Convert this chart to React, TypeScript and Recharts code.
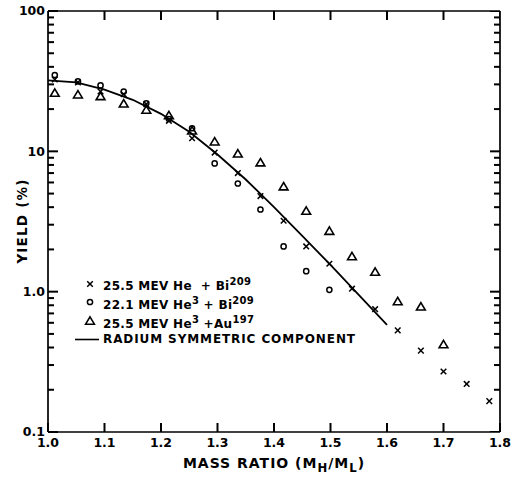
import { ComposedChart, ReferenceLine, Scatter, XAxis, YAxis } from 'recharts';

const heBiX = [1.012, 1.053, 1.093, 1.134, 1.174, 1.214, 1.255, 1.295, 1.336, 1.376, 1.417, 1.457, 1.498, 1.538, 1.579, 1.619, 1.66, 1.7, 1.741, 1.781];
const heBiY = [32.5, 31, 26.7, 25.5, 21.7, 16.5, 12.4, 9.8, 7.0, 4.8, 3.2, 2.1, 1.58, 1.05, 0.75, 0.53, 0.38, 0.27, 0.22, 0.166];

const he3BiX = [1.012, 1.053, 1.093, 1.134, 1.174, 1.214, 1.255, 1.295, 1.336, 1.376, 1.417, 1.457, 1.498];
const he3BiY = [35, 31.5, 29.5, 26.7, 22, 17, 14.6, 8.2, 5.9, 3.85, 2.1, 1.4, 1.03];

const he3AuX = [1.012, 1.053, 1.093, 1.134, 1.174, 1.214, 1.255, 1.295, 1.336, 1.376, 1.417, 1.457, 1.498, 1.538, 1.579, 1.619, 1.66, 1.7];
const he3AuY = [26, 25.3, 24.6, 21.8, 19.7, 18, 14, 11.7, 9.6, 8.3, 5.6, 3.75, 2.7, 1.78, 1.38, 0.85, 0.78, 0.42];

// radium symmetric component (curve)
const curveX = [1.0, 1.05, 1.1, 1.15, 1.2, 1.25, 1.3, 1.35, 1.4, 1.45, 1.5, 1.55, 1.6];
const curveY = [32, 31, 27.5, 23.3, 18.5, 13.8, 9.5, 6.3, 4.0, 2.5, 1.55, 0.95, 0.58];

const xTicks = [1.0, 1.1, 1.2, 1.3, 1.4, 1.5, 1.6, 1.7, 1.8];
const yTicks = [0.1, 1, 10, 100];
const yMinor = [0.2, 0.3, 0.4, 0.5, 0.6, 0.7, 0.8, 0.9, 2, 3, 4, 5, 6, 7, 8, 9, 20, 30, 40, 50, 60, 70, 80, 90];
const yLabels: Record<number, string> = { 0.1: '0.1', 1: '1.0', 10: '10', 100: '100' };

const pairs = (xs: number[], ys: number[]) => xs.map((x, i) => ({ x, y: ys[i] }));
const heBi = pairs(heBiX, heBiY);
const he3Bi = pairs(he3BiX, he3BiY);
const he3Au = pairs(he3AuX, he3AuY);
const curve = pairs(curveX, curveY);

// frame tick marks, placed through the chart scales
const leftMarks = yMinor.map((y) => ({ x: 1.0, y }));
const rightMarks = [...yTicks, ...yMinor].map((y) => ({ x: 1.8, y }));
const topMarks = xTicks.map((x) => ({ x, y: 100 }));

const ink = '#000';
const font = '"DejaVu Sans", sans-serif';

const Cross = ({ cx, cy }: any) => (
  <g stroke={ink} strokeWidth={1.5}>
    <line x1={cx - 2.8} y1={cy - 2.8} x2={cx + 2.8} y2={cy + 2.8} />
    <line x1={cx - 2.8} y1={cy + 2.8} x2={cx + 2.8} y2={cy - 2.8} />
  </g>
);
const Ring = ({ cx, cy }: any) => <circle cx={cx} cy={cy} r={2.6} fill="none" stroke={ink} strokeWidth={1.5} />;
const Tri = ({ cx, cy }: any) => (
  <path d={`M${cx},${cy - 4.2}L${cx + 4.4},${cy + 3.2}L${cx - 4.4},${cy + 3.2}Z`} fill="none" stroke={ink} strokeWidth={1.6} />
);
const NoDot = () => <g />;

const isMajor = (v: number) => yTicks.includes(v);
const LeftMark = ({ cx, cy }: any) => <rect x={cx} y={cy - 1} width={6} height={2} fill={ink} />;
const RightMark = ({ cx, cy, payload }: any) => {
  const w = payload && isMajor(payload.y) ? 10 : 6;
  return <rect x={cx - w} y={cy - 1} width={w} height={2} fill={ink} />;
};
const TopMark = ({ cx, cy }: any) => <rect x={cx - 1} y={cy} width={2} height={9} fill={ink} />;

const tickText = { fill: ink, fontSize: 12.5, fontWeight: 'bold', fontFamily: font };
const axisLine = { stroke: ink, strokeWidth: 1.7 };
const tickLine = { stroke: ink, strokeWidth: 2 };

const legendRows = [
  { mark: 'x', text: <>25.5 MEV He&nbsp;&nbsp;+ Bi<sup>209</sup></> },
  { mark: 'o', text: <>22.1 MEV He<sup>3</sup> + Bi<sup>209</sup></> },
  { mark: 't', text: <>25.5 MEV He<sup>3</sup> +Au<sup>197</sup></> },
];

export default function App() {
  return (
    <div style={{ position: 'absolute', left: 0, top: 0, width: 513, height: 481, background: '#fff', fontFamily: font, color: ink }}>
      <ComposedChart width={513} height={481} margin={{ top: 11, right: 13, bottom: 29, left: 8 }}>
        <XAxis xAxisId="b" dataKey="x" type="number" domain={[1, 1.8]} allowDataOverflow ticks={xTicks} height={20}
          tickSize={-9} tickMargin={15} tickLine={tickLine} axisLine={axisLine} tick={tickText}
          tickFormatter={(v: number) => v.toFixed(1)} />
        <YAxis yAxisId="l" dataKey="y" type="number" scale="log" domain={[0.1, 100]} allowDataOverflow ticks={yTicks} interval={0} width={40}
          tickSize={-10} tickMargin={13} tickLine={tickLine} axisLine={axisLine} tick={tickText}
          tickFormatter={(v: number) => yLabels[v] ?? String(v)} />
        <ReferenceLine xAxisId="b" yAxisId="l" y={100} stroke={ink} strokeWidth={1.7} />
        <ReferenceLine xAxisId="b" yAxisId="l" x={1.8} stroke={ink} strokeWidth={1.7} />
        <Scatter xAxisId="b" yAxisId="l" data={leftMarks} dataKey="y" shape={<LeftMark />} isAnimationActive={false} />
        <Scatter xAxisId="b" yAxisId="l" data={rightMarks} dataKey="y" shape={<RightMark />} isAnimationActive={false} />
        <Scatter xAxisId="b" yAxisId="l" data={topMarks} dataKey="y" shape={<TopMark />} isAnimationActive={false} />
        <Scatter xAxisId="b" yAxisId="l" data={curve} dataKey="y" shape={<NoDot />} line={{ stroke: ink, strokeWidth: 1.8 }} lineType="joint" isAnimationActive={false} />
        <Scatter xAxisId="b" yAxisId="l" data={heBi} dataKey="y" shape={<Cross />} isAnimationActive={false} />
        <Scatter xAxisId="b" yAxisId="l" data={he3Bi} dataKey="y" shape={<Ring />} isAnimationActive={false} />
        <Scatter xAxisId="b" yAxisId="l" data={he3Au} dataKey="y" shape={<Tri />} isAnimationActive={false} />
      </ComposedChart>

      <div style={{ position: 'absolute', left: 70, top: 273, fontSize: 12, fontWeight: 'bold', lineHeight: '19px', letterSpacing: 0.3 }}>
        {legendRows.map((r) => (
          <div key={r.mark} style={{ display: 'flex', alignItems: 'center', height: 19 }}>
            <svg width={33} height={19}>
              {r.mark === 'x' && <Cross cx={20} cy={11} />}
              {r.mark === 'o' && <Ring cx={20} cy={10} />}
              {r.mark === 't' && <Tri cx={20} cy={10} />}
            </svg>
            <span style={{ position: 'relative', top: 1 }}>{r.text}</span>
          </div>
        ))}
        <div style={{ display: 'flex', alignItems: 'center', height: 19 }}>
          <svg width={33} height={19}>
            <line x1={5} y1={9.5} x2={29} y2={9.5} stroke={ink} strokeWidth={1.6} />
          </svg>
          <span style={{ letterSpacing: 0.9 }}>RADIUM SYMMETRIC COMPONENT</span>
        </div>
      </div>

      <div style={{ position: 'absolute', left: 22, top: 221, transform: 'translate(-50%, -50%) rotate(-90deg)', fontSize: 13.5, fontWeight: 'bold', letterSpacing: 1.2, whiteSpace: 'nowrap' }}>
        YIELD (%)
      </div>
      <div style={{ position: 'absolute', left: 274, top: 465, transform: 'translate(-50%, -50%)', fontSize: 14, fontWeight: 'bold', letterSpacing: 1, whiteSpace: 'nowrap' }}>
        MASS RATIO (M<sub>H</sub>/M<sub>L</sub>)
      </div>
    </div>
  );
}
